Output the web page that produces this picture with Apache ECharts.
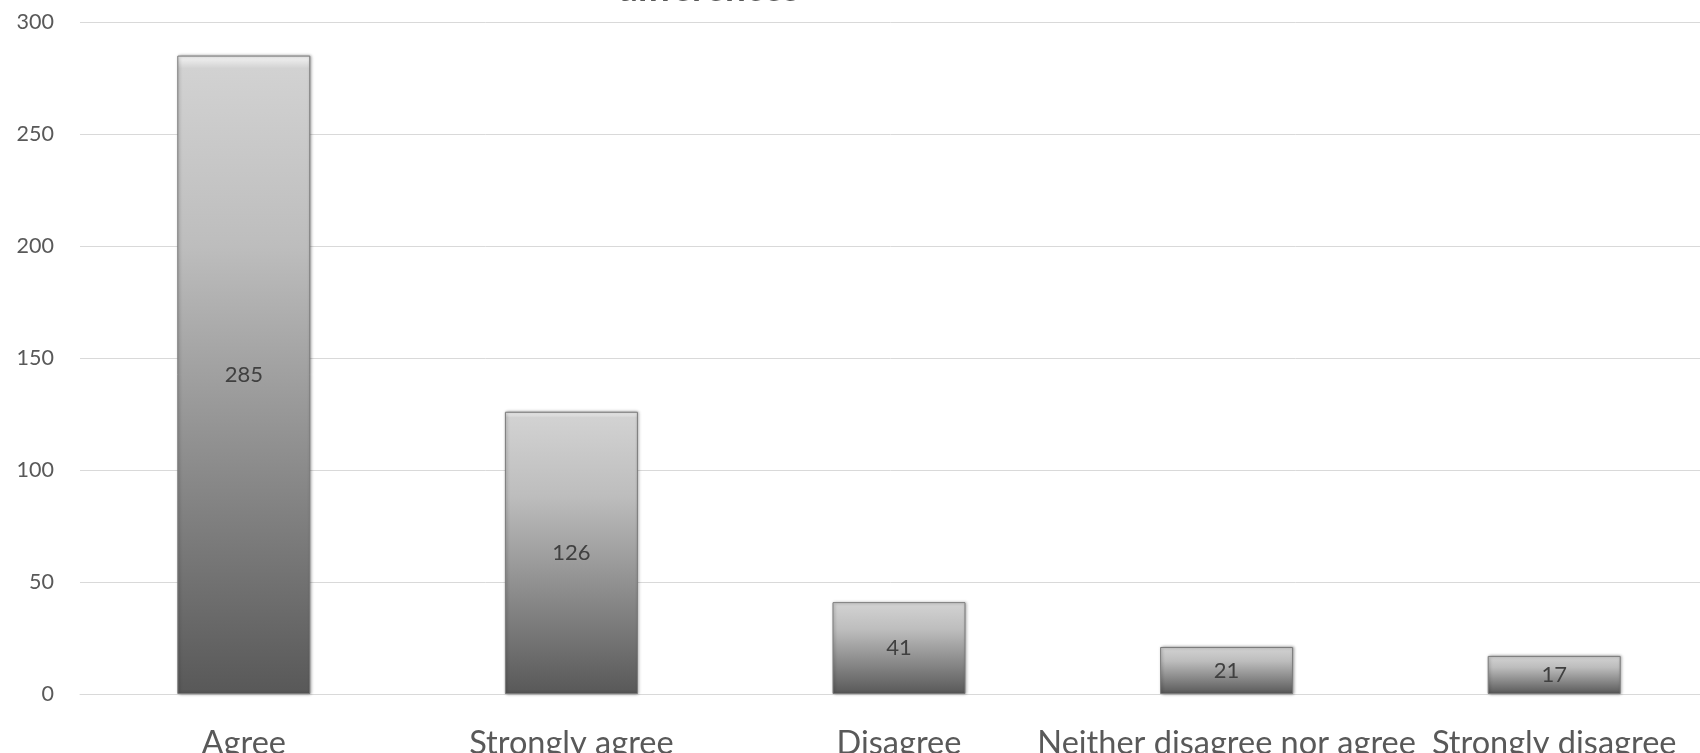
<!DOCTYPE html>
<html>
<head>
<meta charset="utf-8">
<script src="https://cdn.jsdelivr.net/npm/echarts@6/dist/echarts.min.js"></script>
<style>
html,body{margin:0;padding:0;background:#fff;}
#chart{width:1700px;height:753px;}
</style>
</head>
<body>
<div id="chart"></div>
<script>
const titleText = 'differences';
const categories = ['Agree', 'Strongly agree', 'Disagree', 'Neither disagree nor agree', 'Strongly disagree'];
const values = [285, 126, 41, 21, 17];
const yTicks = [0, 50, 100, 150, 200, 250, 300];

const FONT = 'Lato, "Open Sans", sans-serif';
const chart = echarts.init(document.getElementById('chart'), null, {renderer: 'canvas'});
chart.setOption({
  backgroundColor: '#ffffff',
  animation: false,
  title: {
    text: titleText,
    left: 612,
    top: -34,
    textStyle: {fontFamily: FONT, fontSize: 37, fontWeight: 'bold', color: '#595959'}
  },
  grid: {left: 80, right: -18, top: 22, bottom: 59, containLabel: false, outerBoundsMode: 'none'},
  xAxis: {
    type: 'category',
    data: categories,
    axisLine: {show: true, lineStyle: {color: '#d9d9d9', width: 1}},
    axisTick: {show: false},
    axisLabel: {interval: 0, margin: 33, fontFamily: FONT, fontSize: 32.5, color: '#595959'}
  },
  yAxis: {
    type: 'value',
    min: yTicks[0],
    max: yTicks[yTicks.length - 1],
    interval: yTicks[1] - yTicks[0],
    axisLine: {show: false},
    axisTick: {show: false},
    splitLine: {lineStyle: {color: '#d9d9d9', width: 1}},
    axisLabel: {margin: 26, fontFamily: FONT, fontSize: 21.5, color: '#595959'}
  },
  series: [{
    type: 'bar',
    data: values,
    barWidth: '40.6%',
    itemStyle: {
      color: new echarts.graphic.LinearGradient(0, 0, 0, 1, [
        {offset: 0, color: '#f6f6f6'},
        {offset: 0.02, color: '#d2d2d2'},
        {offset: 0.3, color: '#bdbdbd'},
        {offset: 1, color: '#585858'}
      ]),
      borderColor: '#7a7a7a',
      borderWidth: 1,
      shadowColor: 'rgba(0,0,0,0.35)',
      shadowBlur: 3,
      shadowOffsetX: 1,
      shadowOffsetY: 0
    },
    label: {
      show: true,
      position: 'inside',
      fontFamily: FONT,
      fontSize: 22,
      color: '#404040'
    }
  }]
});
</script>
</body>
</html>
